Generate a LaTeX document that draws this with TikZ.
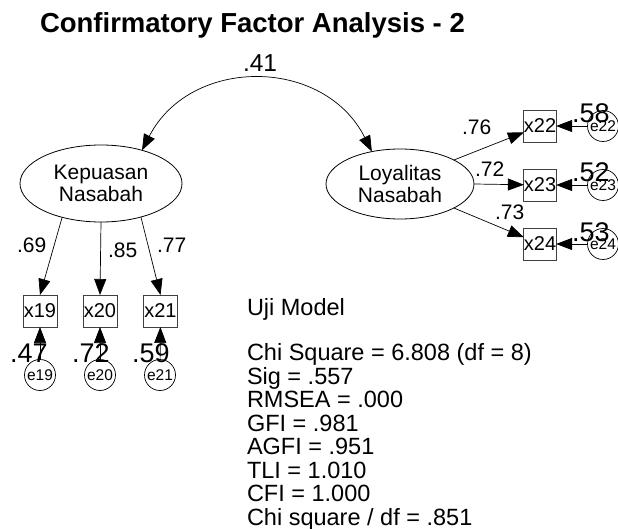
\documentclass[tikz,border=0pt]{standalone}
\usepackage{fontspec}
\setmainfont{Liberation Sans}
\usetikzlibrary{shapes.geometric,arrows.meta}
\tikzset{amostip/.tip={Triangle[length=16pt,width=12pt]}}
\begin{document}
\begin{tikzpicture}[x=1pt,y=-1pt,
  every node/.style={inner sep=0pt,outer sep=0pt},
  latent/.style={draw,ellipse,line width=0.8pt,align=center,
    font=\fontsize{21}{22.5}\selectfont},
  obs/.style={draw=black!75,line width=0.8pt,minimum height=32pt,
    font=\fontsize{20}{20}\selectfont},
  err/.style={draw,circle,line width=0.7pt,minimum size=31pt,
    font=\fontsize{15.5}{15.5}\selectfont},
  arr/.style={-amostip,line width=0.7pt},
  cov/.style={amostip-amostip,line width=0.7pt},
  lbl/.style={anchor=base west,font=\fontsize{21}{21}\selectfont},
  varlbl/.style={anchor=base west,font=\fontsize{27}{27}\selectfont},
  stat/.style={anchor=base west,font=\fontsize{23.5}{23.5}\selectfont}]
\useasboundingbox (0,0) rectangle (618,529);

% title
\node[anchor=base west,font=\fontsize{27.5}{27.5}\selectfont\bfseries]
  (title) at (40,33) {Confirmatory Factor Analysis - 2};

% latent factors
\node[latent,minimum width=162pt,minimum height=77pt] (kp) at (101,183.5)
  {Kepuasan\\Nasabah};
\node[latent,minimum width=148pt,minimum height=70pt] (lo) at (400,184)
  {Loyalitas\\Nasabah};

% indicators of Kepuasan Nasabah
\node[obs,minimum width=34pt] (x19) at (40,311) {x19};
\node[obs,minimum width=34pt] (x20) at (100,311) {x20};
\node[obs,minimum width=34pt] (x21) at (160.5,311) {x21};

% indicators of Loyalitas Nasabah
\node[obs,minimum width=32pt] (x22) at (540,126) {x22};
\node[obs,minimum width=32pt] (x23) at (540,185) {x23};
\node[obs,minimum width=32pt] (x24) at (540,244) {x24};

% error terms
\node[err] (e19) at (40,375) {e19};
\node[err] (e20) at (100,375) {e20};
\node[err] (e21) at (160,375) {e21};
\node[err] (e22) at (603,126) {e22};
\node[err] (e23) at (603,185) {e23};
\node[err] (e24) at (603,244) {e24};

% covariance between the factors
\draw[cov] (kp.39) to[bend left=63,looseness=1.18] (lo.131);

% loadings
\draw[arr] (kp.221) -- (x19.north);
\draw[arr] (kp.south) -- (x20.north);
\draw[arr] (kp.320) -- (x21.north);
\draw[arr] (lo.24) -- (x22);
\draw[arr] (lo.east) -- (x23);
\draw[arr] (lo.336) -- (x24);

% error paths
\draw[arr] (e19) -- (x19);
\draw[arr] (e20) -- (x20);
\draw[arr] (e21) -- (x21);
\draw[arr] (e22) -- (x22);
\draw[arr] (e23) -- (x23);
\draw[arr] (e24) -- (x24);

% estimates
\node[lbl,font=\fontsize{24.5}{24.5}\selectfont] (c41) at (243,72) {.41};
\node[lbl] (l69) at (17,253) {.69};
\node[lbl] (l85) at (108,258) {.85};
\node[lbl] (l77) at (157,253) {.77};
\node[lbl] (l76) at (462,135) {.76};
\node[lbl] (l72) at (475,177) {.72};
\node[lbl] (l73) at (495,220) {.73};

% squared multiple correlations
\node[varlbl] (r47) at (10,362) {.47};
\node[varlbl] (r72) at (72,362) {.72};
\node[varlbl] (r59) at (132,362) {.59};
\node[varlbl] (r58) at (572,123) {.58};
\node[varlbl] (r52) at (572,182) {.52};
\node[varlbl] (r53) at (572,242) {.53};

% model fit summary
\node[stat] (uji) at (247,315) {Uji Model};
\node[stat] (s1) at (247,360.5) {Chi Square = 6.808 (df = 8)};
\node[stat] (s2) at (247,384) {Sig = .557};
\node[stat] (s3) at (247,407.5) {RMSEA = .000};
\node[stat] (s4) at (247,431) {GFI = .981};
\node[stat] (s5) at (247,454.5) {AGFI = .951};
\node[stat] (s6) at (247,478) {TLI = 1.010};
\node[stat] (s7) at (247,501.5) {CFI = 1.000};
\node[stat] (s8) at (247,525) {Chi square / df = .851};
\end{tikzpicture}
\end{document}
